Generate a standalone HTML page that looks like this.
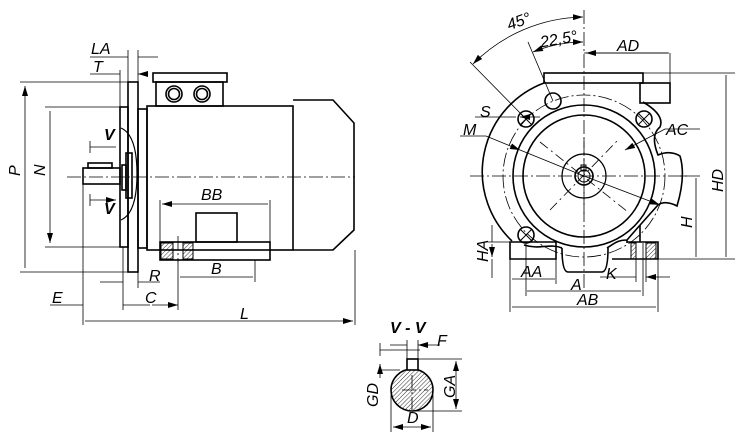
<!DOCTYPE html>
<html><head><meta charset="utf-8"><style>
html,body{margin:0;padding:0;background:#fff;}
svg{display:block}
text{font-family:"Liberation Sans",sans-serif;font-style:italic;font-size:16px;fill:#000}
</style></head><body>
<svg width="741" height="439" viewBox="0 0 741 439" xmlns="http://www.w3.org/2000/svg">
<defs>
<marker id="a" viewBox="0 0 10 6" refX="10" refY="3" markerWidth="10" markerHeight="6" markerUnits="userSpaceOnUse" orient="auto-start-reverse"><path d="M0,0L10,3L0,6z" fill="#000"/></marker>
<pattern id="h" width="3" height="3" patternUnits="userSpaceOnUse" patternTransform="rotate(45)"><line x1="0" y1="0" x2="0" y2="3" stroke="#000" stroke-width="0.8"/></pattern>
</defs>
<g fill="none" stroke="#000" stroke-width="1.6">
<rect x="128" y="82" width="10" height="190"/>
<rect x="120" y="107" width="8" height="140"/>
<rect x="138" y="109" width="9" height="139"/>
<rect x="147" y="106" width="146" height="144"/>
<path d="M293,100H333L354,123V230L333,250H293"/>
<rect x="153" y="73" width="74" height="9"/>
<rect x="156" y="82" width="67" height="24"/>
<circle cx="174" cy="94" r="8"/><circle cx="174" cy="94" r="5.5"/>
<circle cx="202" cy="94" r="8"/><circle cx="202" cy="94" r="5.5"/>
<rect x="83" y="168" width="37" height="16"/>
<rect x="88" y="163" width="24" height="5"/>
<rect x="122" y="165" width="4" height="25"/>
<rect x="126" y="153" width="6" height="45"/>
<path d="M121,128Q137,135 137,174Q137,213 121,220" stroke-width="1.2"/>
<rect x="160" y="242" width="110" height="18"/>
<rect x="196" y="213" width="41" height="29"/>
<rect x="161" y="243" width="12" height="16" fill="url(#h)" stroke-width="1"/>
<rect x="183" y="243" width="10" height="16" fill="url(#h)" stroke-width="1"/>
<path d="M544,83 A95,95 0 0 0 512,241 M524,245 C540,250 550,243 562,248 M607,248 C615,243 618,240 627,240 V243 M643,102 Q665,115 660,127 Q650,135 658,155 Q670,150 680,156 Q686,176 677,206 Q665,200 658,205 Q640,225 627,240" />
<rect x="544" y="73" width="99" height="10"/>
<rect x="640" y="83" width="30" height="20"/>
<circle cx="584" cy="176" r="71"/>
<circle cx="584" cy="176" r="61"/>
<circle cx="584" cy="176" r="22" stroke-width="1.2"/>
<circle cx="584" cy="176" r="9"/><circle cx="584" cy="176" r="6" stroke-width="1"/>
<rect x="581" y="165" width="5" height="6" stroke-width="1"/>
<circle cx="526" cy="119" r="8"/><circle cx="553" cy="101" r="8"/><circle cx="644" cy="119" r="8"/><circle cx="526" cy="235" r="8"/>
<path d="M520,113l12,12M532,113l-12,12M638,113l12,12M650,113l-12,12M520,229l12,12M532,229l-12,12" stroke-width="1"/>
<path d="M510,242H556V259H510zM562,248Q562,272 568,272H602Q608,272 608,248M612,259H658V242H627M640,242V225"/>
<rect x="631" y="243" width="5" height="16" fill="url(#h)" stroke-width="1"/>
<rect x="646" y="243" width="10" height="16" fill="url(#h)" stroke-width="1"/>
<circle cx="412" cy="390" r="21" fill="url(#h)"/>
<rect x="407" y="359" width="11" height="11" fill="#fff"/>
</g>
<g fill="none" stroke="#000" stroke-width="0.8">
<path d="M67,177H355M584,10V290M470,176H690M402,390H428M412,375V410M178,236V262" stroke-dasharray="14,3,2,3"/>
<circle cx="584" cy="176" r="81" stroke-dasharray="14,3,2,3"/>
<path d="M540,142L628,212M584,138V214M550,210L618,140" stroke-dasharray="10,4,2,4"/>
<path d="M20,82H128M20,272H128M45,107H120M45,247H120"/>
<path d="M25,86V268M50,111V243" marker-start="url(#a)" marker-end="url(#a)"/>
<path d="M128,50V82M138,50V82M120,70V107"/>
<path d="M90,57H128M158,57H138M90,74H120M148,74H138" marker-end="url(#a)"/>
<path d="M90,141V153M90,194V206"/>
<path d="M90,147H116M90,200H116" marker-end="url(#a)"/>
<path d="M160,242V200M270,242V200M255,260V282M178,260V310M83,184V325M355,250V325M123,247V310M138,272V288"/>
<path d="M162,204H268M180,277H253M85,321H353" marker-start="url(#a)" marker-end="url(#a)"/>
<path d="M100,282H123M160,282H138M50,305H83M150,305H123M152,305H178" marker-end="url(#a)"/>
<path d="M584,53H669M670,53V100M643,73H735M658,259H735M680,176H700"/>
<path d="M586,53H668M726,75V257M696,178V257M512,279H555M527,291H641M512,307H656M492,244V257" marker-start="url(#a)" marker-end="url(#a)"/>
<path d="M492,225V242M492,278V259M488,242H510"/>
<path d="M510,259V312M658,259V312M556,259V284M526,243V296M643,243V296M636,259V282M646,259V282" />
<path d="M600,277H636M670,277H646" marker-end="url(#a)"/>
<path d="M470,62L526,119M528,42L553,101"/>
<path d="M473,64A159,159 0 0 1 583,17" marker-start="url(#a)" marker-end="url(#a)"/>
<path d="M533,52A134,134 0 0 1 583,42" marker-start="url(#a)" marker-end="url(#a)"/>
<path d="M475,117H516M540,117H520" marker-end="url(#a)"/>
<path d="M460,136H486L520,150" marker-end="url(#a)"/>
<path d="M520,150L584,176"/>
<path d="M584,176L660,205" marker-end="url(#a)"/>
<path d="M700,129H665L625,150" marker-end="url(#a)"/>
<path d="M407,359V340M418,359V340M380,350H420M380,370H400" />
<path d="M390,345H407M440,345H418" marker-end="url(#a)"/>
<path d="M380,343V356M380,378V364" marker-end="url(#a)"/>
<path d="M418,359H462M412,411H462"/>
<path d="M456,361V409" marker-start="url(#a)" marker-end="url(#a)"/>
<path d="M391,395V432M433,395V432"/>
<path d="M393,427H431" marker-start="url(#a)" marker-end="url(#a)"/>
</g>
<text x="91" y="54">LA</text>
<text x="93" y="72">T</text>
<text transform="translate(20,176) rotate(-90)">P</text>
<text transform="translate(45,176) rotate(-90)">N</text>
<text x="104" y="140" style="font-weight:bold">V</text>
<text x="104" y="214" style="font-weight:bold">V</text>
<text x="201" y="200">BB</text>
<text x="211" y="274">B</text>
<text x="149" y="281">R</text>
<text x="145" y="303">C</text>
<text x="52" y="303">E</text>
<text x="240" y="319">L</text>
<text x="507" y="28" transform="rotate(-20 515 23)">45°</text>
<text x="540" y="45" transform="rotate(-10 555 40)">22,5°</text>
<text x="617" y="51">AD</text>
<text x="480" y="117">S</text>
<text x="463" y="135">M</text>
<text x="666" y="135">AC</text>
<text transform="translate(723,192) rotate(-90)">HD</text>
<text transform="translate(692,228) rotate(-90)">H</text>
<text transform="translate(488,262) rotate(-90)">HA</text>
<text x="521" y="277">AA</text>
<text x="571" y="290">A</text>
<text x="606" y="279">K</text>
<text x="577" y="305">AB</text>
<text x="390" y="333" style="font-weight:bold">V - V</text>
<text x="437" y="346">F</text>
<text transform="translate(378,407) rotate(-90)">GD</text>
<text transform="translate(455,398) rotate(-90)">GA</text>
<text x="407" y="423">D</text>
</svg>
</body></html>
